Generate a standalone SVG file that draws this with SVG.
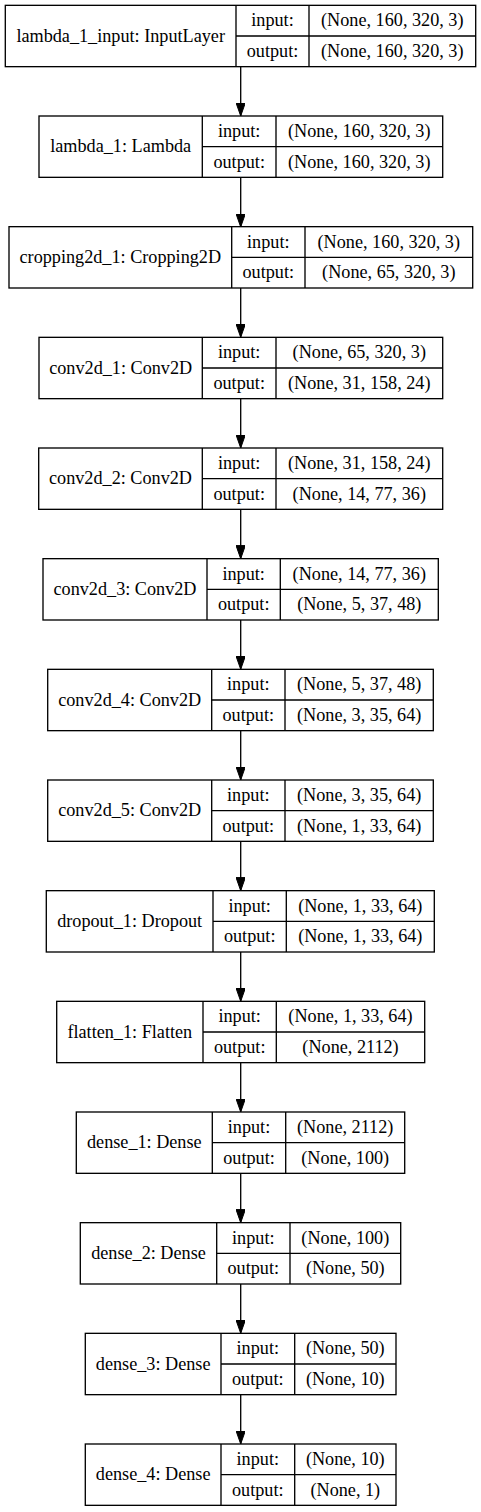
<svg xmlns="http://www.w3.org/2000/svg" width="481" height="1512" viewBox="0 0 481 1512">
<style>
.b{fill:none;stroke:#000;stroke-width:1.33}
.t{font-family:"Liberation Serif","Times New Roman",serif;font-size:18.2px;fill:#000;text-anchor:middle}
.e{fill:none;stroke:#000;stroke-width:1.33}
</style>
<defs>
<marker id="ah" viewBox="0 0 13.3 9.4" refX="13.3" refY="4.7" markerWidth="13.3" markerHeight="9.4" markerUnits="userSpaceOnUse" orient="auto">
<path d="M0,0 L13.3,4.7 L0,9.4 z" fill="#000" stroke="#000" stroke-width="1"/>
</marker>
</defs>
<rect width="481" height="1512" fill="#fff"/>
<g id="connectors">
<path class="e" marker-end="url(#ah)" d="M240.7,66.7 V116"/>
<path class="e" marker-end="url(#ah)" d="M240.7,177.3 V227"/>
<path class="e" marker-end="url(#ah)" d="M240.7,288 V337.3"/>
<path class="e" marker-end="url(#ah)" d="M240.7,398.7 V448"/>
<path class="e" marker-end="url(#ah)" d="M240.7,509.3 V558.7"/>
<path class="e" marker-end="url(#ah)" d="M240.7,620 V669.3"/>
<path class="e" marker-end="url(#ah)" d="M240.7,730.7 V780"/>
<path class="e" marker-end="url(#ah)" d="M240.7,841.3 V890.7"/>
<path class="e" marker-end="url(#ah)" d="M240.7,952 V1001.3"/>
<path class="e" marker-end="url(#ah)" d="M240.7,1062.7 V1112"/>
<path class="e" marker-end="url(#ah)" d="M240.7,1173.3 V1222.7"/>
<path class="e" marker-end="url(#ah)" d="M240.7,1284 V1333.3"/>
<path class="e" marker-end="url(#ah)" d="M240.7,1394.7 V1444"/>
</g>
<g id="n1" transform="translate(0,5.33)">
<rect class="b" x="5.3" y="0" width="470.4" height="61.33"/>
<path class="b" d="M236,0 V61.33 M236,30.67 H475.7 M309,0 V61.33"/>
<text class="t" x="120.7" y="36.3">lambda_1_input: InputLayer</text>
<text class="t" x="272.5" y="20.9">input:</text>
<text class="t" x="272.5" y="51.6">output:</text>
<text class="t" x="392.3" y="20.9">(None, 160, 320, 3)</text>
<text class="t" x="392.3" y="51.6">(None, 160, 320, 3)</text>
</g>
<g id="n2" transform="translate(0,116)">
<rect class="b" x="39" y="0" width="403.7" height="61.33"/>
<path class="b" d="M202.3,0 V61.33 M202.3,30.67 H442.7 M276,0 V61.33"/>
<text class="t" x="120.7" y="36.3">lambda_1: Lambda</text>
<text class="t" x="239.2" y="20.9">input:</text>
<text class="t" x="239.2" y="51.6">output:</text>
<text class="t" x="359.3" y="20.9">(None, 160, 320, 3)</text>
<text class="t" x="359.3" y="51.6">(None, 160, 320, 3)</text>
</g>
<g id="n3" transform="translate(0,226.67)">
<rect class="b" x="9" y="0" width="463.7" height="61.33"/>
<path class="b" d="M231.7,0 V61.33 M231.7,30.67 H472.7 M305,0 V61.33"/>
<text class="t" x="120.3" y="36.3">cropping2d_1: Cropping2D</text>
<text class="t" x="268.3" y="20.9">input:</text>
<text class="t" x="268.3" y="51.6">output:</text>
<text class="t" x="388.8" y="20.9">(None, 160, 320, 3)</text>
<text class="t" x="388.8" y="51.6">(None, 65, 320, 3)</text>
</g>
<g id="n4" transform="translate(0,337.33)">
<rect class="b" x="39" y="0" width="403.7" height="61.33"/>
<path class="b" d="M202.3,0 V61.33 M202.3,30.67 H442.7 M276,0 V61.33"/>
<text class="t" x="120.7" y="36.3">conv2d_1: Conv2D</text>
<text class="t" x="239.2" y="20.9">input:</text>
<text class="t" x="239.2" y="51.6">output:</text>
<text class="t" x="359.3" y="20.9">(None, 65, 320, 3)</text>
<text class="t" x="359.3" y="51.6">(None, 31, 158, 24)</text>
</g>
<g id="n5" transform="translate(0,448)">
<rect class="b" x="38.7" y="0" width="404" height="61.33"/>
<path class="b" d="M202.3,0 V61.33 M202.3,30.67 H442.7 M276,0 V61.33"/>
<text class="t" x="120.5" y="36.3">conv2d_2: Conv2D</text>
<text class="t" x="239.2" y="20.9">input:</text>
<text class="t" x="239.2" y="51.6">output:</text>
<text class="t" x="359.3" y="20.9">(None, 31, 158, 24)</text>
<text class="t" x="359.3" y="51.6">(None, 14, 77, 36)</text>
</g>
<g id="n6" transform="translate(0,558.67)">
<rect class="b" x="43" y="0" width="395.3" height="61.33"/>
<path class="b" d="M207,0 V61.33 M207,30.67 H438.3 M280.3,0 V61.33"/>
<text class="t" x="125" y="36.3">conv2d_3: Conv2D</text>
<text class="t" x="243.7" y="20.9">input:</text>
<text class="t" x="243.7" y="51.6">output:</text>
<text class="t" x="359.3" y="20.9">(None, 14, 77, 36)</text>
<text class="t" x="359.3" y="51.6">(None, 5, 37, 48)</text>
</g>
<g id="n7" transform="translate(0,669.33)">
<rect class="b" x="47.7" y="0" width="385.6" height="61.33"/>
<path class="b" d="M211.7,0 V61.33 M211.7,30.67 H433.3 M285,0 V61.33"/>
<text class="t" x="129.7" y="36.3">conv2d_4: Conv2D</text>
<text class="t" x="248.3" y="20.9">input:</text>
<text class="t" x="248.3" y="51.6">output:</text>
<text class="t" x="359.2" y="20.9">(None, 5, 37, 48)</text>
<text class="t" x="359.2" y="51.6">(None, 3, 35, 64)</text>
</g>
<g id="n8" transform="translate(0,780)">
<rect class="b" x="47.7" y="0" width="385.6" height="61.33"/>
<path class="b" d="M211.7,0 V61.33 M211.7,30.67 H433.3 M285,0 V61.33"/>
<text class="t" x="129.7" y="36.3">conv2d_5: Conv2D</text>
<text class="t" x="248.3" y="20.9">input:</text>
<text class="t" x="248.3" y="51.6">output:</text>
<text class="t" x="359.2" y="20.9">(None, 3, 35, 64)</text>
<text class="t" x="359.2" y="51.6">(None, 1, 33, 64)</text>
</g>
<g id="n9" transform="translate(0,890.67)">
<rect class="b" x="46.3" y="0" width="388" height="61.33"/>
<path class="b" d="M213,0 V61.33 M213,30.67 H434.3 M286.3,0 V61.33"/>
<text class="t" x="129.7" y="36.3">dropout_1: Dropout</text>
<text class="t" x="249.7" y="20.9">input:</text>
<text class="t" x="249.7" y="51.6">output:</text>
<text class="t" x="360.3" y="20.9">(None, 1, 33, 64)</text>
<text class="t" x="360.3" y="51.6">(None, 1, 33, 64)</text>
</g>
<g id="n10" transform="translate(0,1001.33)">
<rect class="b" x="56.7" y="0" width="368" height="61.33"/>
<path class="b" d="M203,0 V61.33 M203,30.67 H424.7 M276.3,0 V61.33"/>
<text class="t" x="129.8" y="36.3">flatten_1: Flatten</text>
<text class="t" x="239.7" y="20.9">input:</text>
<text class="t" x="239.7" y="51.6">output:</text>
<text class="t" x="350.5" y="20.9">(None, 1, 33, 64)</text>
<text class="t" x="350.5" y="51.6">(None, 2112)</text>
</g>
<g id="n11" transform="translate(0,1112)">
<rect class="b" x="76.3" y="0" width="328.4" height="61.33"/>
<path class="b" d="M212.3,0 V61.33 M212.3,30.67 H404.7 M285.7,0 V61.33"/>
<text class="t" x="144.3" y="36.3">dense_1: Dense</text>
<text class="t" x="249" y="20.9">input:</text>
<text class="t" x="249" y="51.6">output:</text>
<text class="t" x="345.2" y="20.9">(None, 2112)</text>
<text class="t" x="345.2" y="51.6">(None, 100)</text>
</g>
<g id="n12" transform="translate(0,1222.67)">
<rect class="b" x="80.3" y="0" width="320.4" height="61.33"/>
<path class="b" d="M216.7,0 V61.33 M216.7,30.67 H400.7 M290,0 V61.33"/>
<text class="t" x="148.5" y="36.3">dense_2: Dense</text>
<text class="t" x="253.3" y="20.9">input:</text>
<text class="t" x="253.3" y="51.6">output:</text>
<text class="t" x="345.3" y="20.9">(None, 100)</text>
<text class="t" x="345.3" y="51.6">(None, 50)</text>
</g>
<g id="n13" transform="translate(0,1333.33)">
<rect class="b" x="85.3" y="0" width="310.7" height="61.33"/>
<path class="b" d="M221,0 V61.33 M221,30.67 H396 M294.7,0 V61.33"/>
<text class="t" x="153.2" y="36.3">dense_3: Dense</text>
<text class="t" x="257.8" y="20.9">input:</text>
<text class="t" x="257.8" y="51.6">output:</text>
<text class="t" x="345.3" y="20.9">(None, 50)</text>
<text class="t" x="345.3" y="51.6">(None, 10)</text>
</g>
<g id="n14" transform="translate(0,1444)">
<rect class="b" x="85.3" y="0" width="310.7" height="61.33"/>
<path class="b" d="M221,0 V61.33 M221,30.67 H396 M294.7,0 V61.33"/>
<text class="t" x="153.2" y="36.3">dense_4: Dense</text>
<text class="t" x="257.8" y="20.9">input:</text>
<text class="t" x="257.8" y="51.6">output:</text>
<text class="t" x="345.3" y="20.9">(None, 10)</text>
<text class="t" x="345.3" y="51.6">(None, 1)</text>
</g>
</svg>
